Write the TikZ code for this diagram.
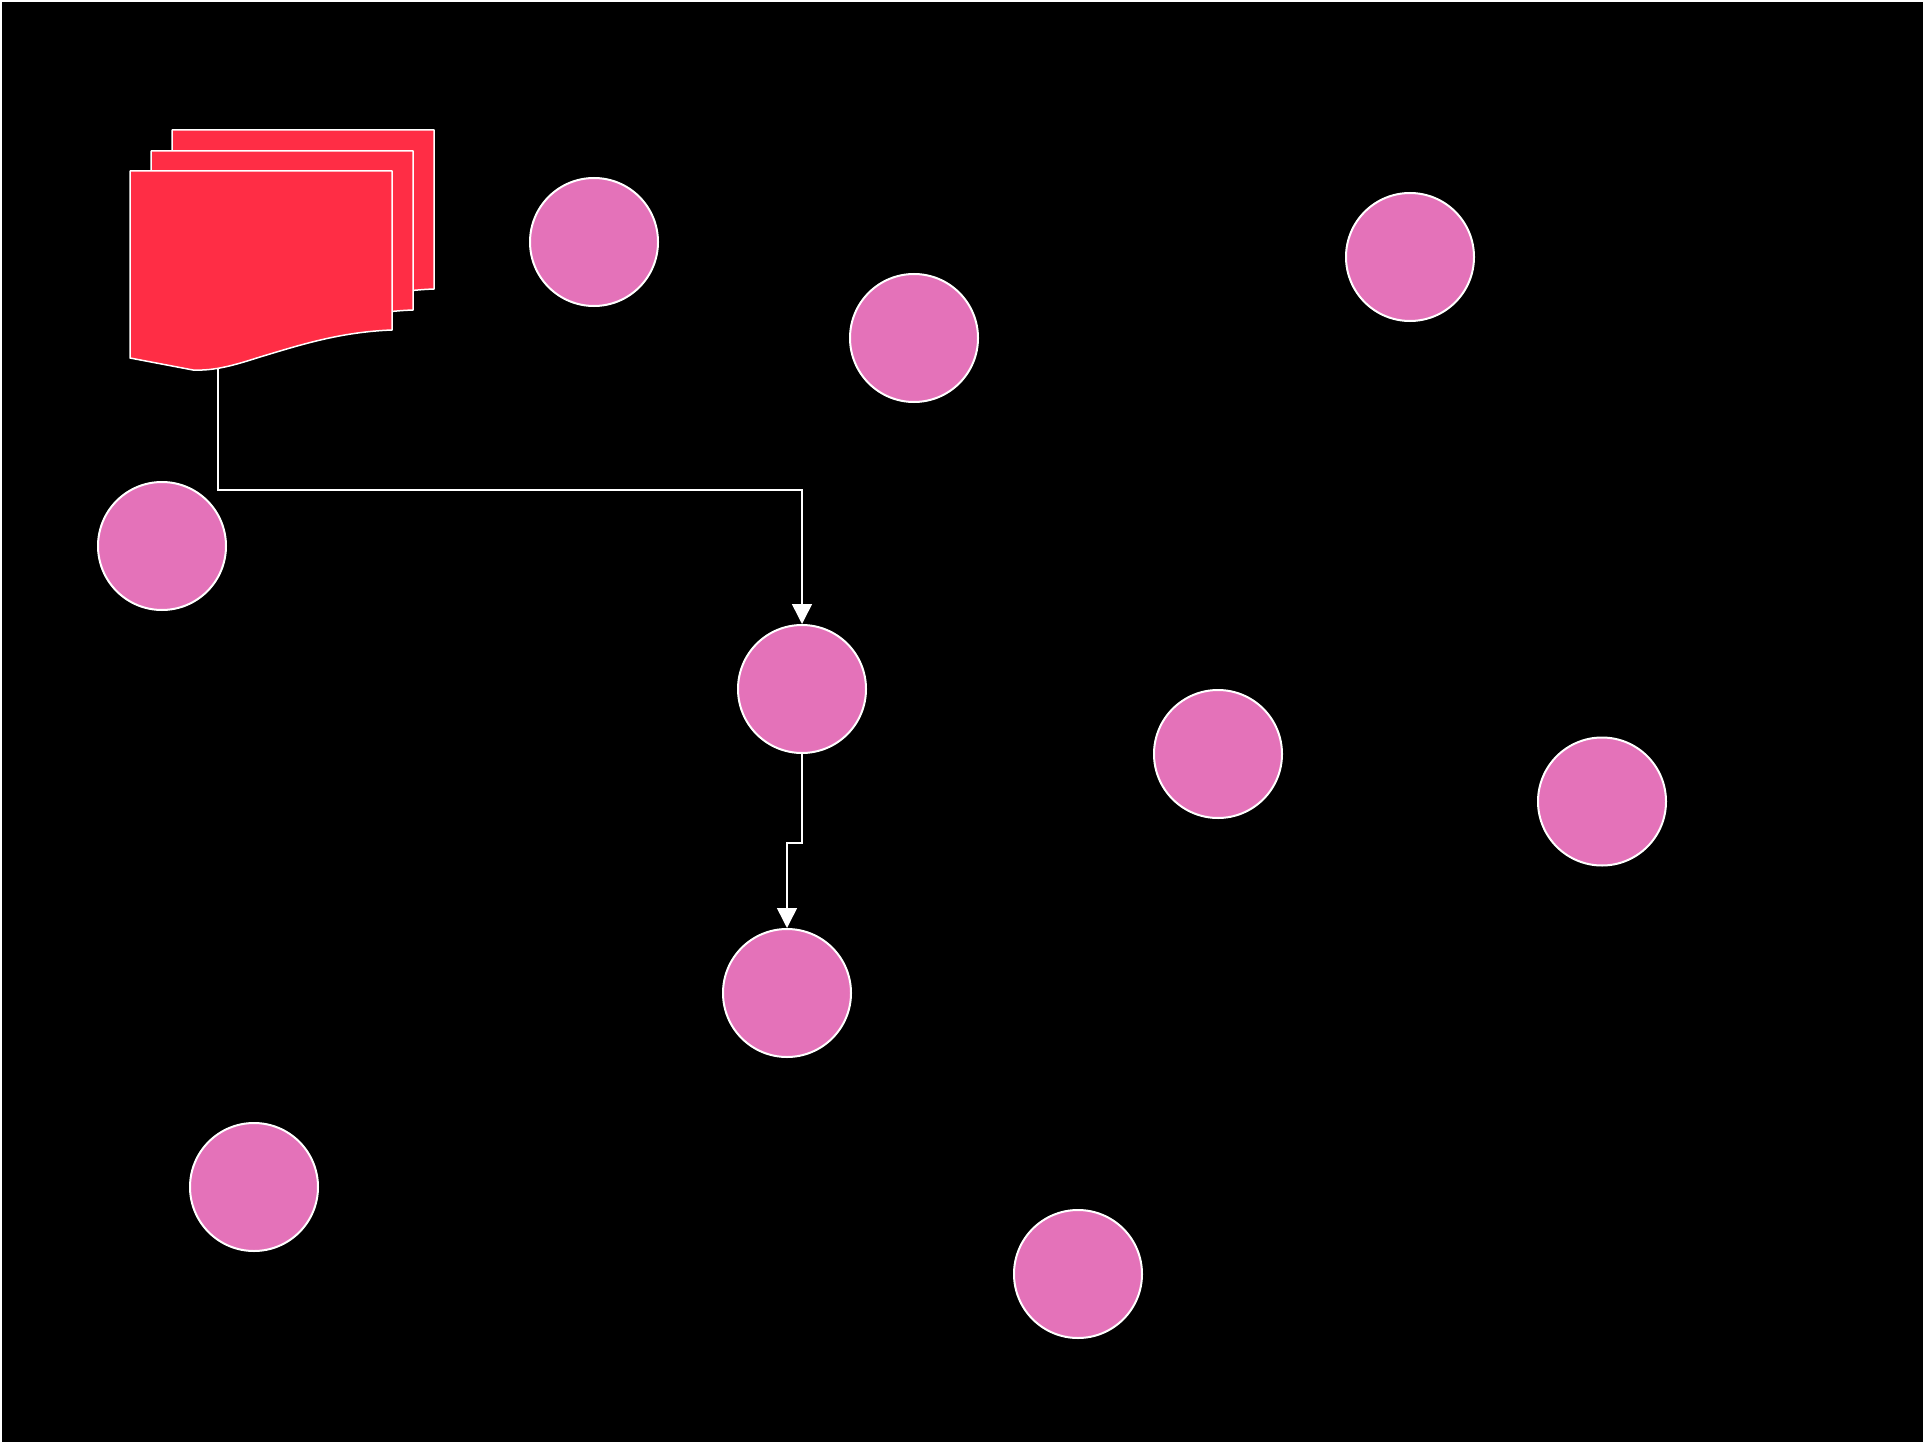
\documentclass[tikz,border=0pt]{standalone}
\usetikzlibrary{arrows.meta}
\definecolor{docred}{HTML}{FF2D45}
\definecolor{dotpink}{HTML}{E472B9}
\tikzset{
  dot/.style={circle, draw=white, line width=2pt, fill=dotpink, minimum size=128pt, inner sep=0pt},
  page/.style={draw=white, line width=1.5pt, fill=docred, line join=round},
  conn/.style={draw=white, line width=1.5pt, -{Triangle[width=20pt,length=20pt]}},
}
\begin{document}
\begin{tikzpicture}[x=1pt,y=-1pt]
\useasboundingbox (0,0) rectangle (1923,1442);
\fill[white] (0,0) rectangle (1923,1442);
\fill[black] (2,2) rectangle (1923,1442);
% multi-document pages
\foreach \dx/\dy in {42/-41,21/-20,0/0}{
  \path[page,shift={(\dx,\dy)}] (130,171) -- (392,171) -- (392,330)
    .. controls (340,332) and (300,345) .. (260,357)
    .. controls (235,365) and (215,371) .. (193,370) -- (130,358) -- cycle;
}
\coordinate (docb) at (218,369);
% circles
\node[dot] (c1) at (594,242) {};
\node[dot] (c2) at (914,338) {};
\node[dot] (c3) at (1410,257) {};
\node[dot] (c4) at (162,546) {};
\node[dot] (c5) at (802,689) {};
\node[dot] (c6) at (1218,754) {};
\node[dot] (c7) at (1602,801.5) {};
\node[dot] (c8) at (787,993) {};
\node[dot] (c9) at (254,1187) {};
\node[dot] (c10) at (1078,1274) {};
% connectors
\draw[conn] (docb) -- ++(0,121) -| (c5.north);
\draw[conn] (c5.south) -- ++(0,89) -| (c8.north);
\end{tikzpicture}
\end{document}
